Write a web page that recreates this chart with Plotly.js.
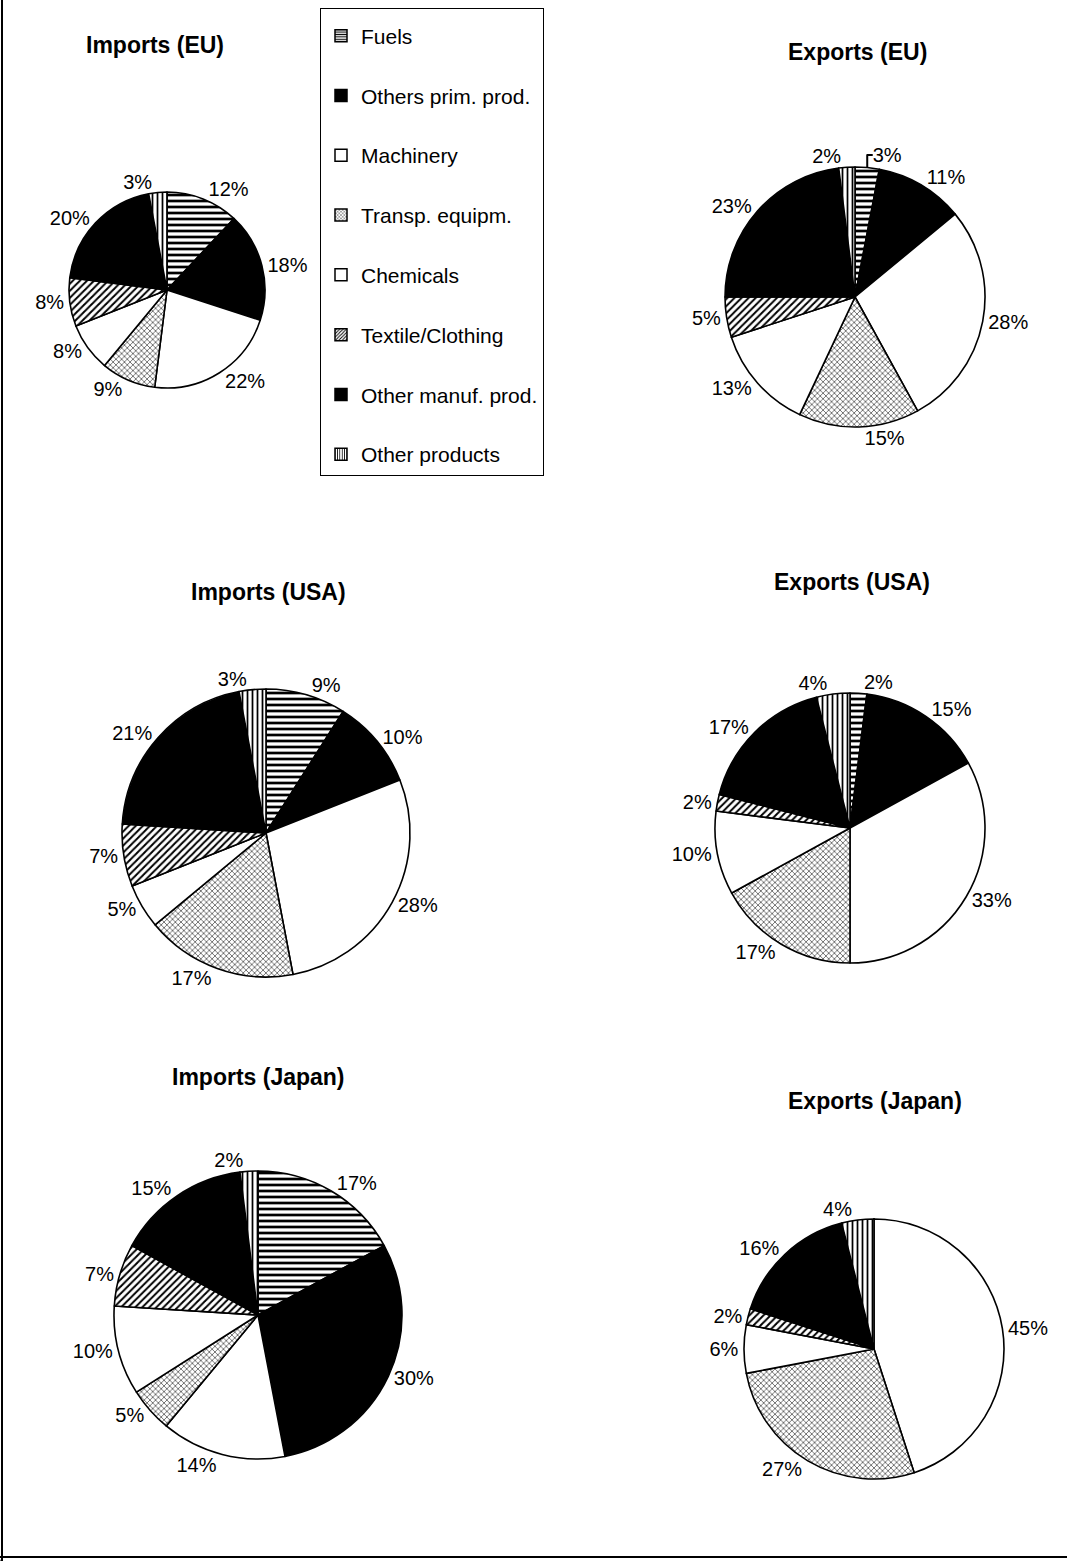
<!DOCTYPE html>
<html>
<head>
<meta charset="utf-8">
<script src="https://cdn.plot.ly/plotly-3.0.1.min.js"></script>
<style>html,body{margin:0;padding:0;background:#fff;}#chart{width:1067px;height:1561px;}</style>
</head>
<body>
<div id="chart"></div>
<script>
// ---- data ----
var categories = ["Fuels", "Others prim. prod.", "Machinery", "Transp. equipm.", "Chemicals", "Textile/Clothing", "Other manuf. prod.", "Other products"];
var chartTitles = ["Imports (EU)", "Exports (EU)", "Imports (USA)", "Exports (USA)", "Imports (Japan)", "Exports (Japan)"];
var importsEU    = [12, 18, 22, 9, 8, 8, 20, 3];
var exportsEU    = [3, 11, 28, 15, 13, 5, 23, 2];
var importsUSA   = [9, 10, 28, 17, 5, 7, 21, 3];
var exportsUSA   = [2, 15, 33, 17, 10, 2, 17, 4];
var importsJapan = [17, 30, 14, 5, 10, 7, 15, 2];
var exportsJapan = [0, 0, 45, 27, 6, 2, 16, 4];
var seriesValues = [importsEU, exportsEU, importsUSA, exportsUSA, importsJapan, exportsJapan];

// ---- styles ----
var W = 1067, H = 1561;
var FONT = "Liberation Sans, Arial, Helvetica, sans-serif";
var sliceColors = ["#ffffff", "#000000", "#ffffff", "#ffffff", "#ffffff", "#ffffff", "#000000", "#ffffff"];
var pattern = {
  shape:    ["-", "", "", "x", "", "/", "", "|"],
  fgcolor:  "#000000",
  size:     [6, 6, 6, 4, 6, 5, 6, 5],
  solidity: [0.45, 0.3, 0.3, 0.25, 0.3, 0.4, 0.3, 0.35]
};
// layout geometry: centre x, centre y, radius (px)
var geom = [
  [167, 290, 98],
  [855, 297, 130],
  [266, 833, 144],
  [850, 828, 135],
  [258, 1315, 144],
  [874, 1349, 130]
];
var titlePos = [[155, 45], [857, 52], [268, 592], [852, 582], [258, 1077], [875, 1101]];

var traces = [];
seriesValues.forEach(function (vals, i) {
  var g = geom[i];
  traces.push({
    type: "pie",
    labels: categories,
    values: vals,
    text: vals.map(function (v) { return v > 0 ? v + "%" : ""; }),
    textinfo: "text",
    textposition: "outside",
    sort: false,
    direction: "clockwise",
    rotation: 0,
    showlegend: false,
    outsidetextfont: {family: FONT, size: 20, color: "#000"},
    marker: {
      colors: sliceColors,
      line: {color: "#000", width: 1.6},
      pattern: pattern
    },
    domain: {
      x: [(g[0] - g[2]) / W, (g[0] + g[2]) / W],
      y: [1 - (g[1] + g[2]) / H, 1 - (g[1] - g[2]) / H]
    },
    hoverinfo: "label+percent"
  });
});

// legend entries (empty bars carrying the same fill styles)
categories.forEach(function (c, j) {
  traces.push({
    type: "bar",
    x: [c], y: [0],
    name: c,
    legendgroup: "g" + j,
    showlegend: true,
    marker: {
      color: sliceColors[j],
      line: {color: "#000", width: 1.5},
      pattern: {shape: pattern.shape[j], fgcolor: "#000", size: 3, solidity: pattern.solidity[j]}
    },
    hoverinfo: "skip"
  });
});

var annotations = chartTitles.map(function (t, i) {
  return {
    text: "<b>" + t + "</b>",
    x: titlePos[i][0] / W, y: 1 - titlePos[i][1] / H,
    xref: "paper", yref: "paper",
    xanchor: "center", yanchor: "middle",
    showarrow: false,
    font: {family: FONT, size: 23, color: "#000"}
  };
});

var layout = {
  width: W, height: H,
  margin: {l: 0, r: 0, t: 0, b: 0},
  paper_bgcolor: "#fff",
  plot_bgcolor: "#fff",
  font: {family: FONT, color: "#000"},
  xaxis: {visible: false, domain: [0, 0.001], fixedrange: true},
  yaxis: {visible: false, domain: [0, 0.001], fixedrange: true},
  showlegend: true,
  legend: {
    x: 320 / W, y: 1 - 8 / H,
    xanchor: "left", yanchor: "top",
    bordercolor: "#000", borderwidth: 1,
    bgcolor: "#fff",
    font: {family: FONT, size: 21, color: "#000"},
    title: {text: "&nbsp;", font: {size: 5}, side: "top"},
    tracegroupgap: 29.5,
    traceorder: "grouped"
  },
  annotations: annotations,
  shapes: [
    {type: "line", xref: "paper", yref: "paper", x0: 2 / W, x1: 2 / W, y0: 0, y1: 1, line: {color: "#000", width: 2}},
    {type: "line", xref: "paper", yref: "paper", x0: 0, x1: 1, y0: 4 / H, y1: 4 / H, line: {color: "#000", width: 2}}
  ]
};

Plotly.newPlot("chart", traces, layout, {displayModeBar: false, staticPlot: true});
</script>
</body>
</html>
